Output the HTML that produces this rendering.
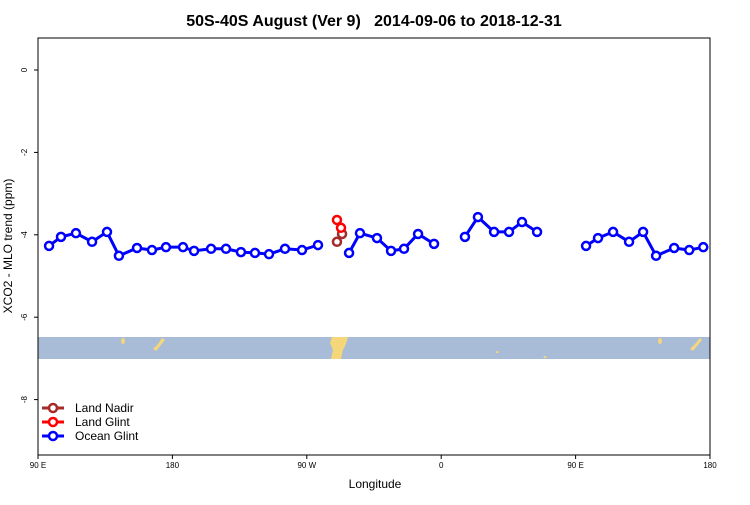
<!DOCTYPE html>
<html><head><meta charset="utf-8"><style>
body{margin:0;background:#fff;width:750px;height:500px;overflow:hidden}
svg text{font-family:"Liberation Sans",sans-serif}
</style></head><body>
<svg id="chart" width="750" height="500">
<text x="374" y="26" text-anchor="middle" font-size="16" font-weight="bold" style="white-space:pre">50S-40S August (Ver 9)   2014-09-06 to 2018-12-31</text>
<rect x="38" y="337" width="672" height="22" fill="#a8bcd8"/>
<g fill="#f5d77a">
<ellipse cx="123" cy="341" rx="2" ry="3"/>
<polygon points="162,338 165,340 160,346 156,351 153,349 158,344"/>
<polygon points="332,337 348,337 346,344 343,350 341,359 331,359 333,350 330,343"/>
<ellipse cx="497" cy="352" rx="1.5" ry="1"/>
<ellipse cx="545" cy="357" rx="1.5" ry="1"/>
<ellipse cx="660" cy="341" rx="2" ry="3"/>
<polygon points="700,338 702,340 697,346 693,351 690,349 695,344"/>
</g>
<rect x="38" y="38" width="672" height="417" fill="none" stroke="#000" stroke-width="1"/>
<g id="axes"></g>
<g id="series"></g>
<text x="375" y="488" text-anchor="middle" font-size="12">Longitude</text>
<text transform="translate(12,246) rotate(-90)" text-anchor="middle" font-size="12">XCO2 - MLO trend (ppm)</text>
<g>
<g><line x1="42" y1="408" x2="64" y2="408" stroke="#a52a2a" stroke-width="3"/><circle cx="53" cy="408" r="4" fill="#fff" stroke="#a52a2a" stroke-width="2.5"/><text x="75" y="412" font-size="12">Land Nadir</text></g>
<g><line x1="42" y1="422" x2="64" y2="422" stroke="#ff0000" stroke-width="3"/><circle cx="53" cy="422" r="4" fill="#fff" stroke="#ff0000" stroke-width="2.5"/><text x="75" y="426" font-size="12">Land Glint</text></g>
<g><line x1="42" y1="436" x2="64" y2="436" stroke="#0000ff" stroke-width="3"/><circle cx="53" cy="436" r="4" fill="#fff" stroke="#0000ff" stroke-width="2.5"/><text x="75" y="440" font-size="12">Ocean Glint</text></g>
</g>
</svg>
<script>
// longitude position in degrees east of 90E (0..450)
const xTickPos=[0,90,180,270,360,450];
const xTickLabels=["90 E","180","90 W","0","90 E","180"];
const yTicks=[0,-2,-4,-6,-8];
const oceanSegments=[
 [[7.4,15.4,25.4,36.2,46.2,54.2,66.3,76.3,85.7,97.1,104.5,115.9,125.9,135.9,145.3,154.7,165.4,176.8,187.5],
  [-4.27,-4.05,-3.96,-4.17,-3.93,-4.51,-4.32,-4.37,-4.30,-4.30,-4.39,-4.34,-4.34,-4.42,-4.44,-4.47,-4.34,-4.37,-4.25]],
 [[208.3,215.6,227,236.4,245.1,254.5,265.2],[-4.44,-3.96,-4.08,-4.39,-4.34,-3.98,-4.22]],
 [[285.9,294.6,305.4,315.4,324.1,334.2],[-4.05,-3.57,-3.93,-3.93,-3.69,-3.93]],
 [[367.0,375.0,385.1,395.8,405.2,413.9,426.0,436.1,445.5],[-4.27,-4.08,-3.93,-4.17,-3.93,-4.51,-4.32,-4.37,-4.30]]
];
const landGlintLon=[200.2,202.9];
const landGlintVal=[-3.64,-3.83];
const landNadirLon=[200.2,203.6];
const landNadirVal=[-4.17,-3.98];
const NS="http://www.w3.org/2000/svg";
const X=u=>38+u*672/450;
const Y=v=>70-v*41.2;
function mk(tag,attrs,parent){const e=document.createElementNS(NS,tag);for(const k in attrs)e.setAttribute(k,attrs[k]);parent.appendChild(e);return e;}
const axes=document.getElementById('axes'),series=document.getElementById('series');
xTickPos.forEach((u,i)=>{
 const t=mk('line',{x1:X(u),x2:X(u),y1:455,y2:459,stroke:'#000'},axes);
 
 
 const l=mk('text',{x:X(u),y:468,'text-anchor':'middle','font-size':'8'},axes);
 l.textContent=xTickLabels[i];
 
 
});
yTicks.forEach(v=>{
 const t=mk('line',{x1:34,x2:38,y1:Y(v),y2:Y(v),stroke:'#000'},axes);
 
 
 const l=mk('text',{transform:`translate(27,${Y(v)}) rotate(-90)`,'text-anchor':'middle','font-size':'8'},axes);
 l.textContent=String(v);
 
 
});
function drawSeries(lons,vals,color,name){
 const g=mk('g',{},series);
 
 
 mk('polyline',{points:lons.map((u,i)=>X(u)+','+Y(vals[i])).join(' '),fill:'none',stroke:color,'stroke-width':3},g);
 lons.forEach((u,i)=>{
  const c=mk('circle',{cx:X(u),cy:Y(vals[i]),r:4,fill:'#fff',stroke:color,'stroke-width':2.5},g);
  
  
 });
}
oceanSegments.forEach(s=>drawSeries(s[0],s[1],'#0000ff','ocean-glint-line'));
drawSeries(landNadirLon,landNadirVal,'#a52a2a','land-nadir-line');
drawSeries(landGlintLon,landGlintVal,'#ff0000','land-glint-line');
</script>
</body></html>
